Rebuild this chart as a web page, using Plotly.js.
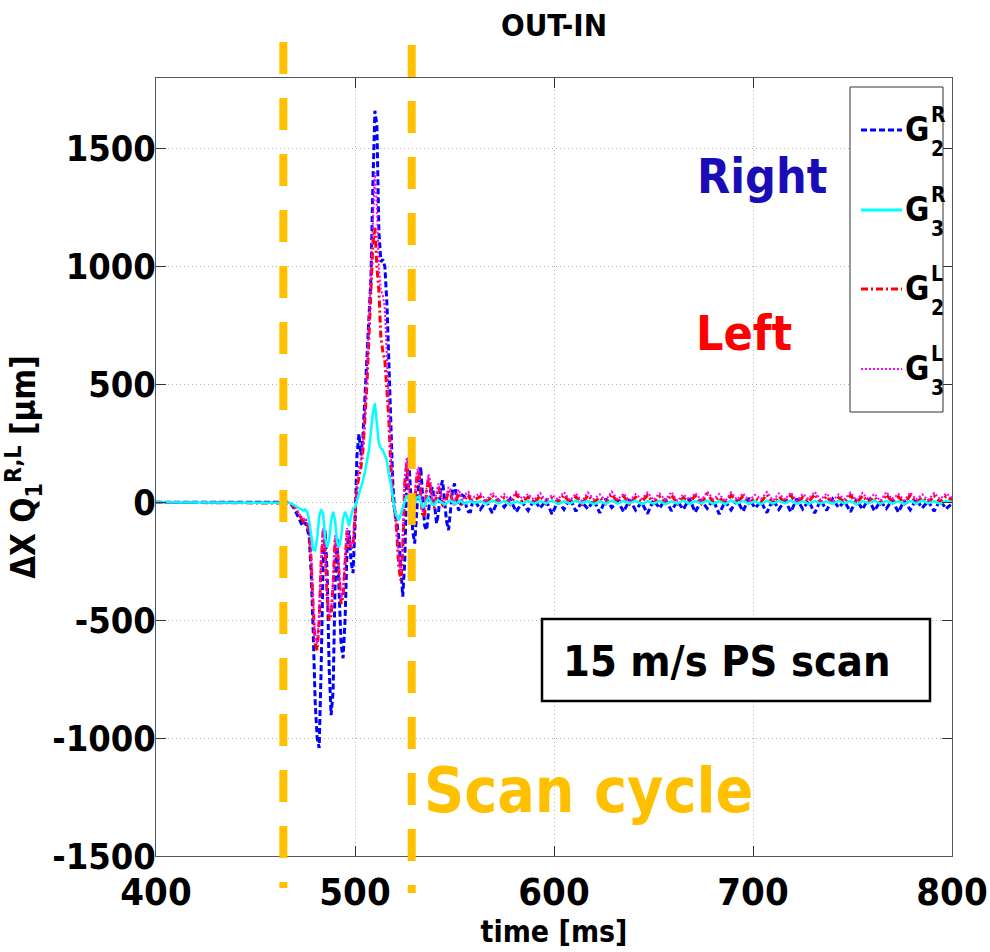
<!DOCTYPE html>
<html>
<head>
<meta charset="utf-8">
<script src="https://cdn.plot.ly/plotly-3.0.1.min.js"></script>
<style>html,body{margin:0;padding:0;background:#fff;}#chart{width:990px;height:952px;}</style>
</head>
<body>
<div id="chart"></div>
<script>
// ---------------- DATA ----------------
// sampling grid: flat start, 1 ms steps through the scan transient, 3 ms steps afterwards
const flatTimes = [400, 464];
const onsetStart = 466, onsetEnd = 560;     // 1 ms samples
const tailStart = 563, tailEnd = 800;       // 3 ms samples
const flatValues = [0, 0];

// G2^R (blue, dashed) 466..560 ms
const g2rOnset = [
  0, -5, -10, -20, -35, -50, -70, -90, -100, -85,
  -110, -150, -300, -550, -850, -1000, -1042, -700, -250, -120,
  -300, -700, -903, -800, -350, -150, -350, -600, -661, -500,
  -200, -120, -250, -300, -100, 200, 290, 200, 280, 450,
  560, 750, 950, 1350, 1661, 1600, 1150, 1020, 1030, 1000,
  850, 600, 300, 80, -50, -80, -150, -300, -400, -250,
  100, 190, 50, -120, -175, -60, 90, 150, 40, -100,
  -118, -20, 50, 64, -30, -90, -40, 60, 93, 20,
  -80, -118, -30, 50, 80, 10, -34, -20, 30, 25,
  -20, -40, -40, 0, 10
];
// G2^R 563..800 ms
const g2rTail = [
  -30, 5, -45, 10, -20, 15, -40, 0, -35, 12,
  -25, 8, -50, 5, -30, 18, -38, 2, -28, 10,
  -45, 15, -22, 6, -40, 12, -33, 0, -48, 10,
  -25, 14, -36, 4, -30, 16, -42, 8, -26, 12,
  -50, 5, -32, 10, -38, 18, -24, 3, -44, 12,
  -30, 8, -40, 15, -28, 6, -46, 10, -34, 14,
  -22, 4, -40, 12, -30, 16, -36, 5, -26, 10,
  -42, 8, -32, 14, -24, 6, -38, 10, -28, -5
];

// G3^R (cyan, solid)
const g3rOnset = [
  0, -2, -5, -10, -15, -20, -25, -30, -35, -30,
  -40, -80, -150, -200, -203, -150, -60, -30, -50, -150,
  -190, -160, -80, -40, -80, -170, -190, -150, -70, -40,
  -60, -100, -60, -25, -20, 8, 30, 60, 93, 130,
  170, 220, 300, 380, 420, 330, 250, 230, 220, 200,
  178, 120, 80, 20, -34, -60, -76, -50, -20, 10,
  30, 15, -20, -30, -5, 20, 25, 5, -20, -15,
  10, 20, 5, -10, -10, 5, 8, 2, -6, -10,
  -3, 6, 8, 0, -6, -5, 4, 6, 0, -5,
  -4, 3, 5, 0, -3
];
const g3rTail = [
  5, -6, 8, -4, 6, -8, 4, -5, 7, -6,
  6, -4, 8, -7, 5, -5, 7, -3, 6, -8,
  4, -6, 8, -5, 6, -4, 7, -7, 5, -5,
  6, -8, 4, -5, 8, -6, 5, -4, 7, -6,
  5, -7, 8, -4, 6, -5, 4, -8, 7, -5,
  6, -4, 8, -6, 5, -7, 6, -5, 4, -6,
  7, -5, 6, -8, 5, -4, 8, -6, 6, -5,
  4, -7, 6, -5, 8, -4, 5, -6, 7, 0
];

// G2^L (red, dash-dot)
const g2lOnset = [
  0, -3, -8, -15, -25, -40, -55, -70, -80, -70,
  -90, -130, -250, -450, -600, -627, -500, -250, -120, -200,
  -400, -500, -480, -350, -150, -180, -330, -430, -400, -250,
  -120, -150, -200, -180, -50, 60, 110, 150, 220, 340,
  500, 700, 900, 1100, 1165, 1000, 900, 700, 640, 600,
  480, 350, 150, 0, -30, -130, -275, -330, -200, 80,
  170, 60, -60, -76, 20, 100, 135, 40, -62, -50,
  50, 106, 60, -20, -20, 30, 64, 30, -10, -20,
  20, 50, 40, 0, -10, 20, 40, 20, -5, 0,
  25, 30, 10, -5, 10
];
const g2lTail = [
  25, -5, 30, 0, 20, -8, 35, 2, 22, -4,
  28, -6, 18, 0, 32, -3, 24, -8, 30, 2,
  20, -5, 34, 0, 26, -7, 22, 3, 30, -4,
  25, -2, 32, -6, 20, 0, 28, -5, 35, 2,
  22, -8, 30, 0, 26, -4, 18, 2, 32, -5,
  24, 0, 30, -6, 22, 3, 34, -3, 26, -7,
  20, 2, 30, -4, 28, 0, 22, -6, 33, 1,
  24, -5, 30, 0, 20, -3, 28, 2, 25, 10
];

// G3^L (magenta, dotted)
const g3lOnset = [
  0, -3, -8, -14, -22, -35, -50, -65, -75, -65,
  -85, -120, -230, -420, -580, -600, -480, -230, -110, -190,
  -380, -480, -460, -330, -140, -170, -310, -410, -380, -240,
  -110, -140, -190, -170, -40, 80, 150, 180, 250, 380,
  560, 780, 1000, 1250, 1400, 1250, 1000, 900, 880, 820,
  620, 400, 180, 20, -20, -110, -250, -300, -150, 110,
  190, 90, -40, -60, 40, 130, 150, 60, -40, -30,
  70, 120, 80, 0, 0, 45, 80, 45, 5, 0,
  35, 65, 55, 15, 5, 35, 55, 35, 10, 15,
  40, 45, 25, 10, 25
];
const g3lTail = [
  38, 8, 42, 12, 35, 5, 45, 15, 36, 10,
  40, 6, 32, 12, 44, 8, 38, 4, 42, 14,
  34, 8, 46, 12, 38, 6, 35, 15, 42, 10,
  38, 10, 44, 6, 34, 12, 40, 8, 46, 14,
  36, 5, 42, 12, 38, 8, 32, 14, 44, 8,
  38, 12, 42, 6, 36, 15, 45, 10, 38, 5,
  34, 14, 42, 8, 40, 12, 36, 6, 44, 13,
  36, 8, 42, 12, 34, 10, 40, 14, 38, 20
];

const scanCycleTimes = [464, 528.5];    // ms, orange dashed markers
const xTicks = [400, 500, 600, 700, 800];
const xTickText = ['400', '500', '600', '700', '800'];
const yTicks = [-1500, -1000, -500, 0, 500, 1000, 1500];
const yTickText = ['-1500', '-1000', '-500', '0', '500', '1000', '1500'];
const xRange = [400, 800];
const yRange = [-1500, 1800];

// ---------------- BUILD ----------------
const time = flatTimes.slice();
for (let t = onsetStart; t <= onsetEnd; t += 1) time.push(t);
for (let t = tailStart; t <= tailEnd; t += 3) time.push(t);
const series = (onset, tail) => flatValues.concat(onset, tail);

const W = 990, H = 952;
const M = {l: 156, r: 38, t: 78, b: 96};
const PW = W - M.l - M.r, PH = H - M.t - M.b;
const px = x => (x - M.l) / PW;          // pixel -> paper
const py = y => (H - M.b - y) / PH;
const xp = t => (t - xRange[0]) / (xRange[1] - xRange[0]);

const COND = 'DejaVu Sans Condensed, DejaVu Sans, sans-serif';

const traces = [
  {name: 'G2R', y: series(g2rOnset, g2rTail), line: {color: '#0000ff', width: 3, dash: '6px,3px'}},
  {name: 'G2L', y: series(g2lOnset, g2lTail), line: {color: '#ff0000', width: 3, dash: '7px,3px,2px,3px'}},
  {name: 'G3L', y: series(g3lOnset, g3lTail), line: {color: '#ff00ff', width: 2, dash: '2px,2px'}},
  {name: 'G3R', y: series(g3rOnset, g3rTail), line: {color: '#00ffff', width: 2.5}}
].map(tr => Object.assign({x: time, type: 'scatter', mode: 'lines', showlegend: false, hoverinfo: 'skip'}, tr));

const shapes = [];
const annotations = [];

// orange scan-cycle markers (extend beyond plot)
const scanTop = [42, 45], scanBot = [888, 893];
scanCycleTimes.forEach((t, i) => {
  shapes.push({type: 'line', xref: 'paper', yref: 'paper', x0: xp(t), x1: xp(t),
    y0: py(scanTop[i]), y1: py(scanBot[i]), layer: 'above',
    line: {color: '#ffc000', width: 8, dash: '32px,24px'}});
});

// legend (manual, MATLAB style stacked sub/superscripts)
shapes.push({type: 'rect', xref: 'paper', yref: 'paper', x0: px(850), x1: px(943), y0: py(87), y1: py(412),
  fillcolor: '#ffffff', line: {color: '#333333', width: 1}, layer: 'above'});
const legendItems = [
  {sup: 'R', sub: '2', y: 130, line: {color: '#0000ff', width: 3, dash: '6px,3px'}},
  {sup: 'R', sub: '3', y: 210, line: {color: '#00ffff', width: 3}},
  {sup: 'L', sub: '2', y: 289, line: {color: '#ff0000', width: 3, dash: '7px,3px,2px,3px'}},
  {sup: 'L', sub: '3', y: 369, line: {color: '#ff00ff', width: 2, dash: '2px,2px'}}
];
legendItems.forEach(it => {
  shapes.push({type: 'line', xref: 'paper', yref: 'paper', x0: px(861), x1: px(902), y0: py(it.y), y1: py(it.y),
    line: it.line, layer: 'above'});
  annotations.push({xref: 'paper', yref: 'paper', x: px(904), y: py(it.y - 1), xanchor: 'left', yanchor: 'middle',
    text: 'G', showarrow: false, borderpad: 0, font: {family: COND, size: 33, color: '#000', weight: 'bold'}});
  annotations.push({xref: 'paper', yref: 'paper', x: px(930), y: py(it.y - 15), xanchor: 'left', yanchor: 'middle',
    text: it.sup, showarrow: false, borderpad: 0, font: {family: COND, size: 21, color: '#000', weight: 'bold'}});
  annotations.push({xref: 'paper', yref: 'paper', x: px(930), y: py(it.y + 19), xanchor: 'left', yanchor: 'middle',
    text: it.sub, showarrow: false, borderpad: 0, font: {family: COND, size: 21, color: '#000', weight: 'bold'}});
});

// text labels
annotations.push({xref: 'paper', yref: 'paper', x: px(762), y: py(176), text: 'Right', showarrow: false,
  xanchor: 'center', yanchor: 'middle', font: {family: COND, size: 48, color: '#1a0db8', weight: 'bold'}});
annotations.push({xref: 'paper', yref: 'paper', x: px(744), y: py(333), text: 'Left', showarrow: false,
  xanchor: 'center', yanchor: 'middle', font: {family: COND, size: 48, color: '#ff0000', weight: 'bold'}});
annotations.push({xref: 'paper', yref: 'paper', x: px(588), y: py(790), text: 'Scan cycle', showarrow: false,
  xanchor: 'center', yanchor: 'middle', font: {family: COND, size: 62, color: '#ffc000', weight: 'bold'}});
// boxed note
shapes.push({type: 'rect', xref: 'paper', yref: 'paper', x0: px(542), x1: px(930), y0: py(619), y1: py(701),
  fillcolor: '#ffffff', line: {color: '#000000', width: 2.5}, layer: 'above'});
annotations.push({xref: 'paper', yref: 'paper', x: px(727), y: py(661), text: '15 m/s PS scan', showarrow: false,
  xanchor: 'center', yanchor: 'middle', font: {family: COND, size: 43, color: '#000', weight: 'bold'}});

const axisCommon = {
  showline: true, linecolor: '#555555', linewidth: 1, mirror: 'ticks',
  ticks: 'inside', ticklen: 10, tickcolor: '#333333', tickwidth: 1,
  showgrid: true, gridcolor: '#b0b0b0', griddash: '1px,3px', gridwidth: 1,
  zeroline: false, automargin: false
};

const layout = {
  width: W, height: H, margin: M,
  paper_bgcolor: '#ffffff', plot_bgcolor: '#ffffff', showlegend: false,
  title: {text: 'OUT-IN', x: 0.5, xref: 'paper', xanchor: 'center', y: 1 - 25 / H, yref: 'container', yanchor: 'middle',
    font: {family: COND, size: 31, color: '#000', weight: 'bold'}},
  xaxis: Object.assign({}, axisCommon, {range: xRange, tickmode: 'array', tickvals: xTicks, ticktext: xTickText,
    ticklabelstandoff: 2,
    tickfont: {family: COND, size: 38, color: '#000', weight: 'bold'},
    title: {text: 'time [ms]', standoff: 6, font: {family: COND, size: 30, color: '#000', weight: 'bold'}}}),
  yaxis: Object.assign({}, axisCommon, {range: yRange, tickmode: 'array', tickvals: yTicks, ticktext: yTickText,
    ticklabelstandoff: -8,
    tickfont: {family: COND, size: 36, color: '#000', weight: 'bold'},
    title: {text: 'ΔX Q<sub>1</sub><sup>R,L</sup> [μm]', standoff: 30, font: {family: COND, size: 33, color: '#000', weight: 'bold'}}}),
  shapes: shapes,
  annotations: annotations
};

Plotly.newPlot('chart', traces, layout, {displayModeBar: false, staticPlot: true});
</script>
</body>
</html>
